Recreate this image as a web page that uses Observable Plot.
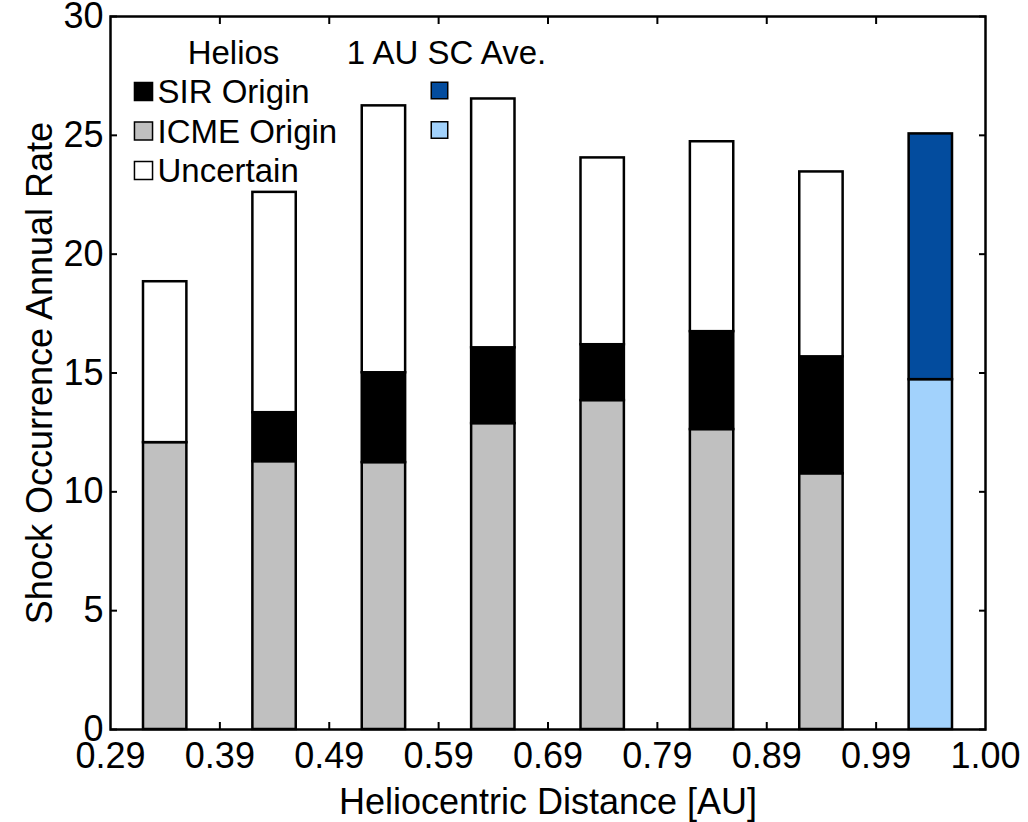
<!DOCTYPE html>
<html>
<head>
<meta charset="utf-8">
<script src="https://cdn.jsdelivr.net/npm/d3@7"></script>
<script src="https://cdn.jsdelivr.net/npm/@observablehq/plot@0.6"></script>
<style>
  html, body { margin: 0; padding: 0; background: #fff; }
  #chart svg { display: block; overflow: visible; }
</style>
</head>
<body>
<div id="chart"></div>
<script>
// Distance bins (Helios) plus the 1 AU spacecraft average
const bins = ["0.29–0.39", "0.39–0.49", "0.49–0.59", "0.59–0.69", "0.69–0.79", "0.79–0.89", "0.89–0.99", "1.00"];
const sources = ["Helios", "Helios", "Helios", "Helios", "Helios", "Helios", "Helios", "1 AU SC Ave."];
const tickLabels = ["0.29", "0.39", "0.49", "0.59", "0.69", "0.79", "0.89", "0.99", "1.00"];
const yTicks = [0, 5, 10, 15, 20, 25, 30];

// Annual shock rates by origin
const icme      = [12.07, 11.27, 11.23, 12.87, 13.84, 12.62, 10.76, 14.72];
const sir       = [0.00,  2.06,  3.78,  3.19,  2.35,  4.12,  4.92, 10.34];
const uncertain = [6.77,  9.27, 11.23, 10.47,  7.86,  7.99,  7.78,  0.00];

const components = [
  {name: "ICME", values: icme},
  {name: "SIR", values: sir},
  {name: "Uncertain", values: uncertain}
];

// Stacked segments: ICME at the bottom, then SIR, then uncertain
const rows = [];
bins.forEach((bin, i) => {
  let base = 0;
  for (const c of components) {
    const v = c.values[i];
    if (v > 0) rows.push({i, bin, key: `${sources[i]}|${c.name}`, y1: base, y2: base + v});
    base += v;
  }
});

const colorDomain = ["Helios|SIR", "Helios|ICME", "Helios|Uncertain", "1 AU SC Ave.|SIR", "1 AU SC Ave.|ICME"];
const colorRange  = ["#000000", "#c0c0c0", "#ffffff", "#034c9e", "#a2d2fc"];

const heliosLegend = [
  {label: "SIR Origin", key: "Helios|SIR"},
  {label: "ICME Origin", key: "Helios|ICME"},
  {label: "Uncertain", key: "Helios|Uncertain"}
];
const auLegend = [
  {key: "1 AU SC Ave.|SIR"},
  {key: "1 AU SC Ave.|ICME"}
];

const font = "'Liberation Sans', Arial, Helvetica, sans-serif";
const rowStep = 39.5;

const legendMarks = [
  Plot.text(["Helios"], {text: d => d, frameAnchor: "top-left", dx: 123, dy: 37, textAnchor: "middle", lineAnchor: "middle", fontSize: 33}),
  Plot.text(["1 AU SC Ave."], {text: d => d, frameAnchor: "top-left", dx: 336, dy: 37, textAnchor: "middle", lineAnchor: "middle", fontSize: 33}),
  ...heliosLegend.flatMap((d, k) => [
    Plot.dot([d], {frameAnchor: "top-left", dx: 33, dy: 75 + rowStep * k, symbol: "square", r: 10.2,
      fill: "key", stroke: "#000", strokeWidth: 1.5}),
    Plot.text([d], {text: "label", frameAnchor: "top-left", dx: 47, dy: 76 + rowStep * k,
      textAnchor: "start", lineAnchor: "middle", fontSize: 33})
  ]),
  ...auLegend.map((d, k) =>
    Plot.dot([d], {frameAnchor: "top-left", dx: 329, dy: 74 + rowStep * k, symbol: "square", r: 9.3,
      fill: "key", stroke: "#000", strokeWidth: 1.5})
  )
];

const chart = Plot.plot({
  width: 1028,
  height: 822,
  marginLeft: 110,
  marginRight: 43,
  marginTop: 16,
  marginBottom: 93,
  style: {fontFamily: font, fontSize: "36px", color: "#000", background: "#fff", overflow: "visible"},
  x: {domain: [0, 8]},
  y: {domain: [0, 30]},
  color: {domain: colorDomain, range: colorRange},
  marks: [
    Plot.rectY(rows, {
      x1: d => d.i, x2: d => d.i + 1, y1: "y1", y2: "y2",
      insetLeft: 33, insetRight: 33,
      fill: "key", stroke: "#000", strokeWidth: 2.5
    }),
    // tick labels
    Plot.axisY({ticks: yTicks, tickSize: 0, tickPadding: 7, label: null, fontSize: 36}),
    Plot.axisX({ticks: d3.range(9), tickSize: 0, tickPadding: 13, tickFormat: i => tickLabels[i], label: null, fontSize: 36}),
    // inward tick marks on all four sides
    Plot.axisY({anchor: "left", ticks: yTicks, tickSize: -7, tickFormat: () => "", label: null, strokeWidth: 2}),
    Plot.axisY({anchor: "right", ticks: yTicks, tickSize: -7, tickFormat: () => "", label: null, strokeWidth: 2}),
    Plot.axisX({anchor: "bottom", ticks: d3.range(1, 8), tickSize: -7, tickFormat: () => "", label: null, strokeWidth: 2}),
    Plot.axisX({anchor: "top", ticks: d3.range(1, 8), tickSize: -7, tickFormat: () => "", label: null, strokeWidth: 2}),
    Plot.frame({stroke: "#000", strokeWidth: 2.5}),
    // axis titles
    Plot.text(["Shock Occurrence Annual Rate"], {text: d => d, frameAnchor: "left", rotate: -90, dx: -70,
      textAnchor: "middle", lineAnchor: "middle", fontSize: 36}),
    Plot.text(["Heliocentric Distance [AU]"], {text: d => d, frameAnchor: "bottom", dy: 73,
      textAnchor: "middle", lineAnchor: "middle", fontSize: 36}),
    ...legendMarks
  ]
});

document.getElementById("chart").appendChild(chart);
</script>
</body>
</html>
